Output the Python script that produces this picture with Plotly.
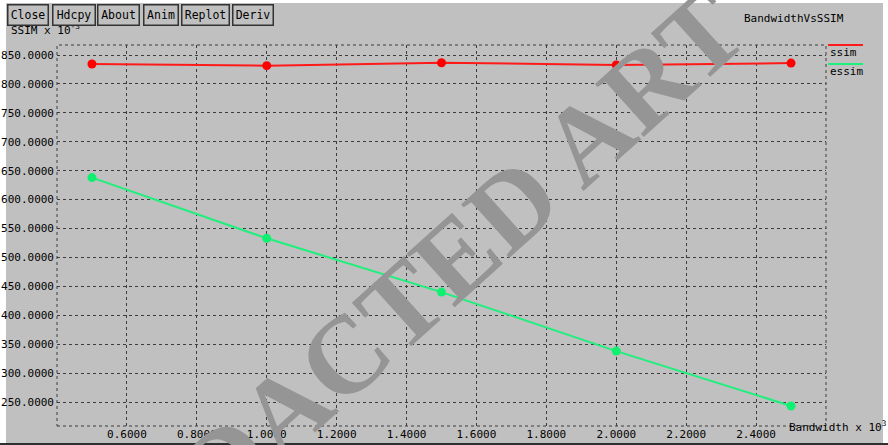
import plotly.graph_objects as go

# ---- data (Bandwidth x 10^3, SSIM x 10^-3) ----
bandwidth = [0.5, 1.0, 1.5, 2.0, 2.5]
ssim = [834.5, 831.6, 836.7, 832.8, 836.0]
essim = [638.0, 533.0, 440.0, 338.0, 243.0]
x_ticks = [0.6, 0.8, 1.0, 1.2, 1.4, 1.6, 1.8, 2.0, 2.2, 2.4]
y_ticks = [250, 300, 350, 400, 450, 500, 550, 600, 650, 700, 750, 800, 850]
buttons = ["Close", "Hdcpy", "About", "Anim", "Replot", "Deriv"]

W, H = 888, 445
L, R, T, B = 57, 826, 45, 426
PW, PH = R - L, B - T


def px(x):
    return (x - L) / PW


def py(y):
    return (B - y) / PH


MONO = "DejaVu Sans Mono"
GRAY = "#c0c0c0"
GRID = "#3c3c3c"

fig = go.Figure()
fig.add_trace(go.Scatter(x=bandwidth, y=ssim, mode="lines+markers", name="ssim",
                         line=dict(color="#ff1a1a", width=2),
                         marker=dict(color="#ff0000", size=9)))
fig.add_trace(go.Scatter(x=bandwidth, y=essim, mode="lines+markers", name="essim",
                         line=dict(color="#1ef07c", width=2),
                         marker=dict(color="#10f070", size=9)))

shapes = []
# window border strips
shapes.append(dict(type="rect", xref="paper", yref="paper", x0=px(-5), x1=px(6), y0=py(450), y1=py(-5),
                   fillcolor="white", line=dict(width=0), layer="below"))
shapes.append(dict(type="rect", xref="paper", yref="paper", x0=px(-5), x1=px(893), y0=py(3), y1=py(-5),
                   fillcolor="white", line=dict(width=0), layer="below"))
shapes.append(dict(type="rect", xref="paper", yref="paper", x0=px(883), x1=px(893), y0=py(450), y1=py(-5),
                   fillcolor="white", line=dict(width=0), layer="below"))
shapes.append(dict(type="rect", xref="paper", yref="paper", x0=px(-5), x1=px(893), y0=py(450), y1=py(443),
                   fillcolor="#303030", line=dict(width=0), layer="below"))
# plot frame (dotted)
shapes.append(dict(type="rect", xref="paper", yref="paper", x0=0, x1=1, y0=0, y1=1,
                   line=dict(color=GRID, width=1, dash="dot"), layer="below"))
# legend lines
shapes.append(dict(type="line", xref="paper", yref="paper", x0=px(828), x1=px(863), y0=py(45), y1=py(45),
                   line=dict(color="#ff1a1a", width=2)))
shapes.append(dict(type="line", xref="paper", yref="paper", x0=px(828), x1=px(863), y0=py(64), y1=py(64),
                   line=dict(color="#1ef07c", width=2)))

ann = []
# watermark
ann.append(dict(text="<b>REDACTED ART</b>", xref="paper", yref="paper", x=px(405), y=py(302),
                xanchor="center", yanchor="middle", showarrow=False, textangle=-42,
                font=dict(family="Liberation Serif", size=110, color="#959595")))
# y title (partly hidden behind buttons)
ann.append(dict(text="SSIM x 10<sup>-3</sup>", xref="paper", yref="paper", x=px(9), y=py(29),
                xanchor="left", yanchor="middle", showarrow=False,
                font=dict(family=MONO, size=11, color="black")))
# buttons
btn_x = [(7, 49), (52, 96), (97, 140), (143, 179), (181, 230), (232, 274)]
for name, (a, b) in zip(buttons, btn_x):
    ann.append(dict(text=name, xref="paper", yref="paper", x=px((a + b) / 2), y=py(15),
                    xanchor="center", yanchor="middle", showarrow=False,
                    width=b - a - 3, height=19, borderpad=0, borderwidth=1.5,
                    bordercolor="#333333", bgcolor=GRAY,
                    font=dict(family=MONO, size=11.5, color="black")))
# title
ann.append(dict(text="BandwidthVsSSIM", xref="paper", yref="paper", x=px(794), y=py(19),
                xanchor="center", yanchor="middle", showarrow=False,
                font=dict(family=MONO, size=11, color="black")))
# legend labels
ann.append(dict(text="ssim", xref="paper", yref="paper", x=px(828), y=py(52),
                xanchor="left", yanchor="middle", showarrow=False,
                font=dict(family=MONO, size=11, color="black")))
ann.append(dict(text="essim", xref="paper", yref="paper", x=px(828), y=py(71),
                xanchor="left", yanchor="middle", showarrow=False,
                font=dict(family=MONO, size=11, color="black")))
# x title
ann.append(dict(text="Bandwidth x 10<sup>3</sup>", xref="paper", yref="paper", x=px(787), y=py(426),
                xanchor="left", yanchor="middle", showarrow=False,
                font=dict(family=MONO, size=11, color="black")))

fig.update_layout(
    width=W, height=H,
    margin=dict(l=L, r=W - R, t=T, b=H - B, autoexpand=False),
    paper_bgcolor=GRAY, plot_bgcolor=GRAY,
    showlegend=False,
    shapes=shapes, annotations=ann,
    font=dict(family=MONO, size=11, color="black"),
)
fig.update_xaxes(range=[0.4, 2.6], tickvals=x_ticks, tickformat=".4f",
                 showgrid=True, gridcolor=GRID, gridwidth=1, griddash="dot",
                 zeroline=False, showline=False, ticks="",
                 tickfont=dict(family=MONO, size=11, color="black"))
fig.update_yaxes(range=[208.5, 867.3], tickvals=y_ticks, tickformat=".4f",
                 showgrid=True, gridcolor=GRID, gridwidth=1, griddash="dot",
                 zeroline=False, showline=False, ticks="", ticklabelstandoff=2,
                 tickfont=dict(family=MONO, size=11, color="black"))

fig.write_html("out.html", config={"displayModeBar": False},
               post_script="document.body.style.margin='0px';document.body.style.padding='0px';")
